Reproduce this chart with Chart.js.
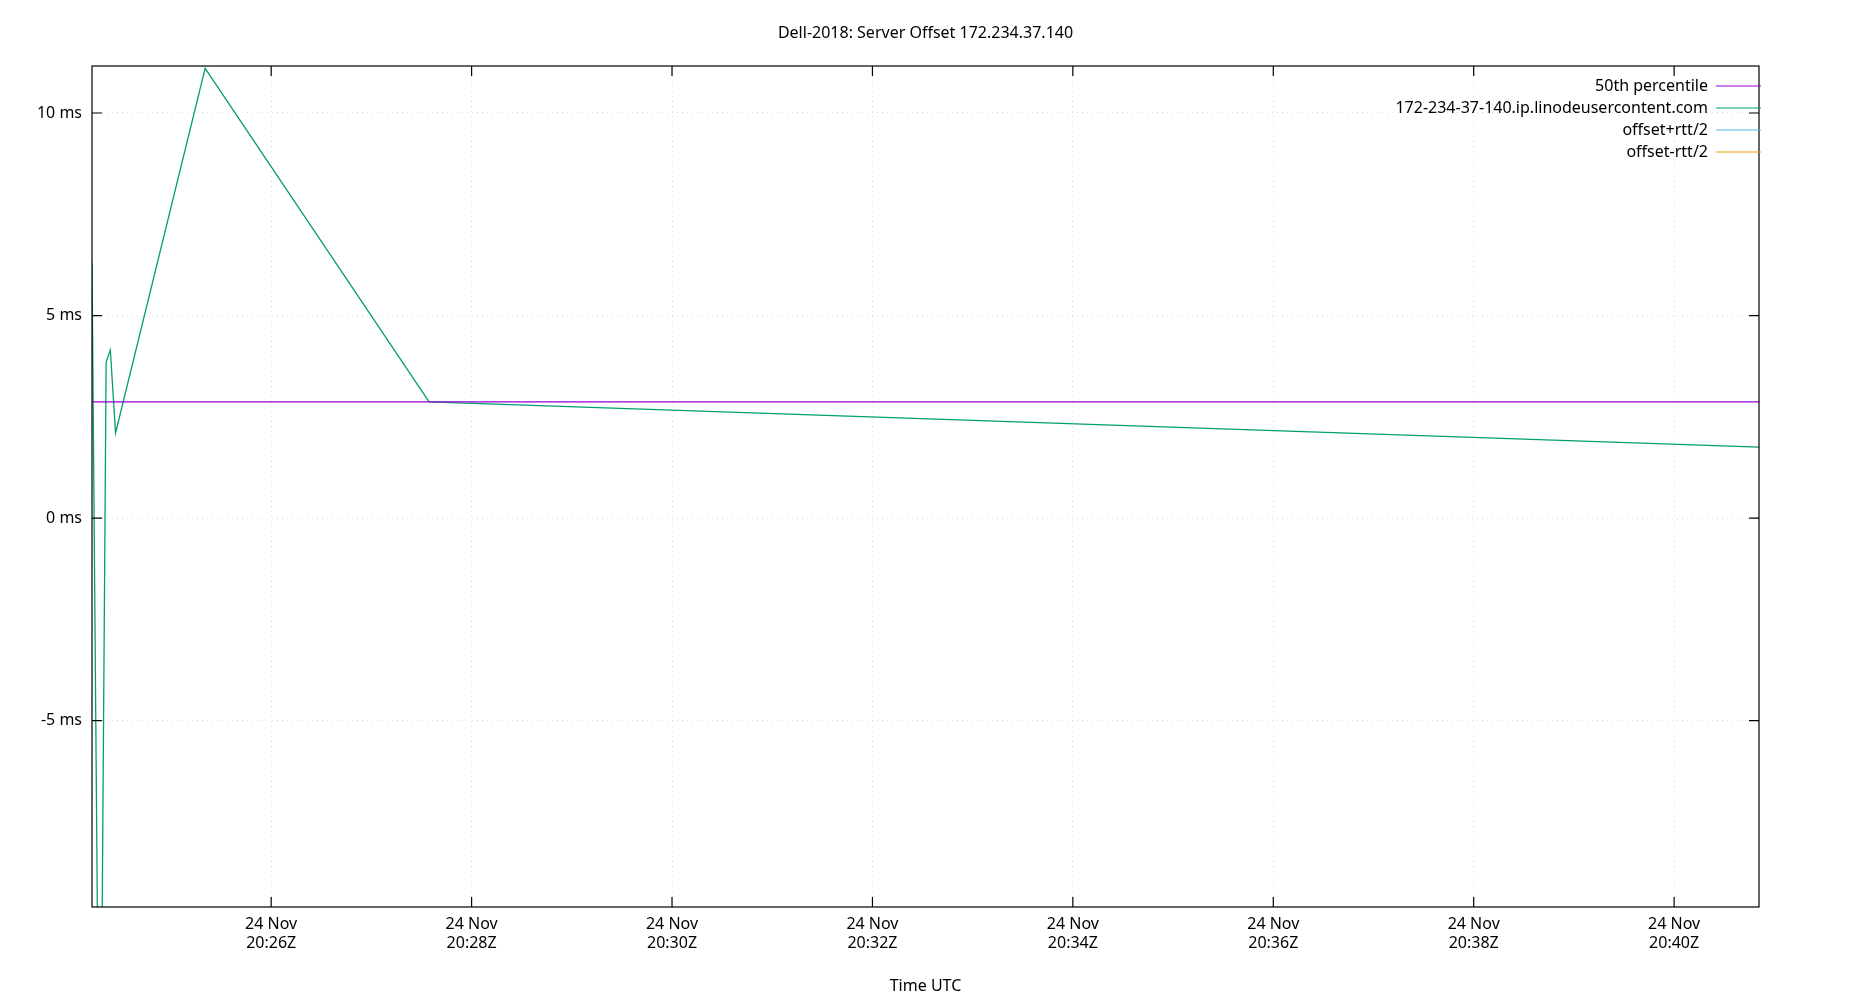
<!DOCTYPE html>
<html><head><meta charset="utf-8">
<script src="https://cdn.jsdelivr.net/npm/chart.js@4"></script>
<style>html,body{margin:0;padding:0;background:#fff}#c{display:block}</style>
</head><body>
<canvas id="c" width="1850" height="1000"></canvas>
<script>
// times in minutes after 20:00 UTC, 24 Nov
const offsetTimes = [24.212, 24.27, 24.31, 24.353, 24.395, 24.447, 25.341, 27.576, 40.847];
const offsetValues = [6.3, -11, -11, 3.85, 4.15, 2.1, 11.1, 2.87, 1.75];
const percentileValue = 2.87;
const xRange = [24.212, 40.847];
const yRange = [-9.6, 11.16];
const xTicks = [26, 28, 30, 32, 34, 36, 38, 40];
const yTicks = [-5, 0, 5, 10];
const legendLabels = ["50th percentile", "172-234-37-140.ip.linodeusercontent.com", "offset+rtt/2", "offset-rtt/2"];
const colors = ["#9400d3", "#009e73", "#56b4e9", "#e69f00"];
const FONT = "'Noto Sans', 'DejaVu Sans', sans-serif";

const boxPlugin = {
  id: 'box',
  afterDatasetsDraw(chart) {
    const {ctx, chartArea: a, scales} = chart;
    ctx.save();
    ctx.strokeStyle = '#000'; ctx.lineWidth = 1.2;
    ctx.strokeRect(a.left, a.top, a.right - a.left, a.bottom - a.top);
    ctx.beginPath();
    yTicks.forEach(v => { const y = scales.y.getPixelForValue(v); ctx.moveTo(a.left, y); ctx.lineTo(a.left + 10, y); ctx.moveTo(a.right, y); ctx.lineTo(a.right - 10, y); });
    xTicks.forEach(v => { const x = scales.x.getPixelForValue(v); ctx.moveTo(x, a.bottom); ctx.lineTo(x, a.bottom - 10); ctx.moveTo(x, a.top); ctx.lineTo(x, a.top + 10); });
    ctx.stroke();
    ctx.fillStyle = '#000'; ctx.font = '16px ' + FONT; ctx.textAlign = 'center'; ctx.textBaseline = 'middle';
    ctx.fillText('Dell-2018: Server Offset 172.234.37.140', (a.left + a.right) / 2, 33);
    ctx.font = '16px ' + FONT; ctx.textAlign = 'right';
    legendLabels.forEach((t, i) => {
      const y = 86 + i * 22;
      ctx.fillStyle = '#000'; ctx.fillText(t, 1708, y);
      ctx.strokeStyle = colors[i]; ctx.lineWidth = 1.2;
      ctx.beginPath(); ctx.moveTo(1716, y); ctx.lineTo(1761, y); ctx.stroke();
    });
    ctx.restore();
  }
};

new Chart(document.getElementById('c'), {
  type: 'scatter',
  data: {
    datasets: [
      { data: xRange.map(x => ({x, y: percentileValue})), borderColor: colors[0], borderWidth: 1.3, showLine: true, pointRadius: 0 },
      { data: offsetTimes.map((x, i) => ({x, y: offsetValues[i]})), borderColor: colors[1], borderWidth: 1.3, showLine: true, pointRadius: 0 },
      { data: [], borderColor: colors[2], showLine: true, pointRadius: 0 },
      { data: [], borderColor: colors[3], showLine: true, pointRadius: 0 }
    ]
  },
  options: {
    responsive: false, animation: false,
    layout: { padding: { top: 66, right: 91, left: 0, bottom: 0 } },
    plugins: { legend: { display: false }, tooltip: { enabled: false } },
    scales: {
      x: {
        type: 'linear', min: xRange[0], max: xRange[1],
        afterBuildTicks: s => { s.ticks = xTicks.map(v => ({value: v})); },
        afterFit: s => { s.height = 93; },
        ticks: { color: '#000', font: { size: 16, family: FONT }, padding: 8, maxRotation: 0,
          callback: v => ['24 Nov', '20:' + String(v).padStart(2, '0') + 'Z'] },
        grid: { color: '#dddddd', drawTicks: false },
        border: { display: false, dash: [1, 4] },
        title: { display: true, text: 'Time UTC', color: '#000', font: { size: 16, family: FONT }, padding: { top: 2 } }
      },
      y: {
        min: yRange[0], max: yRange[1],
        afterBuildTicks: s => { s.ticks = yTicks.map(v => ({value: v})); },
        afterFit: s => { s.width = 92; },
        ticks: { color: '#000', font: { size: 16, family: FONT }, padding: 10, callback: v => v + ' ms' },
        grid: { color: '#dddddd', drawTicks: false },
        border: { display: false, dash: [1, 4] }
      }
    }
  },
  plugins: [boxPlugin]
});
</script>
</body></html>
